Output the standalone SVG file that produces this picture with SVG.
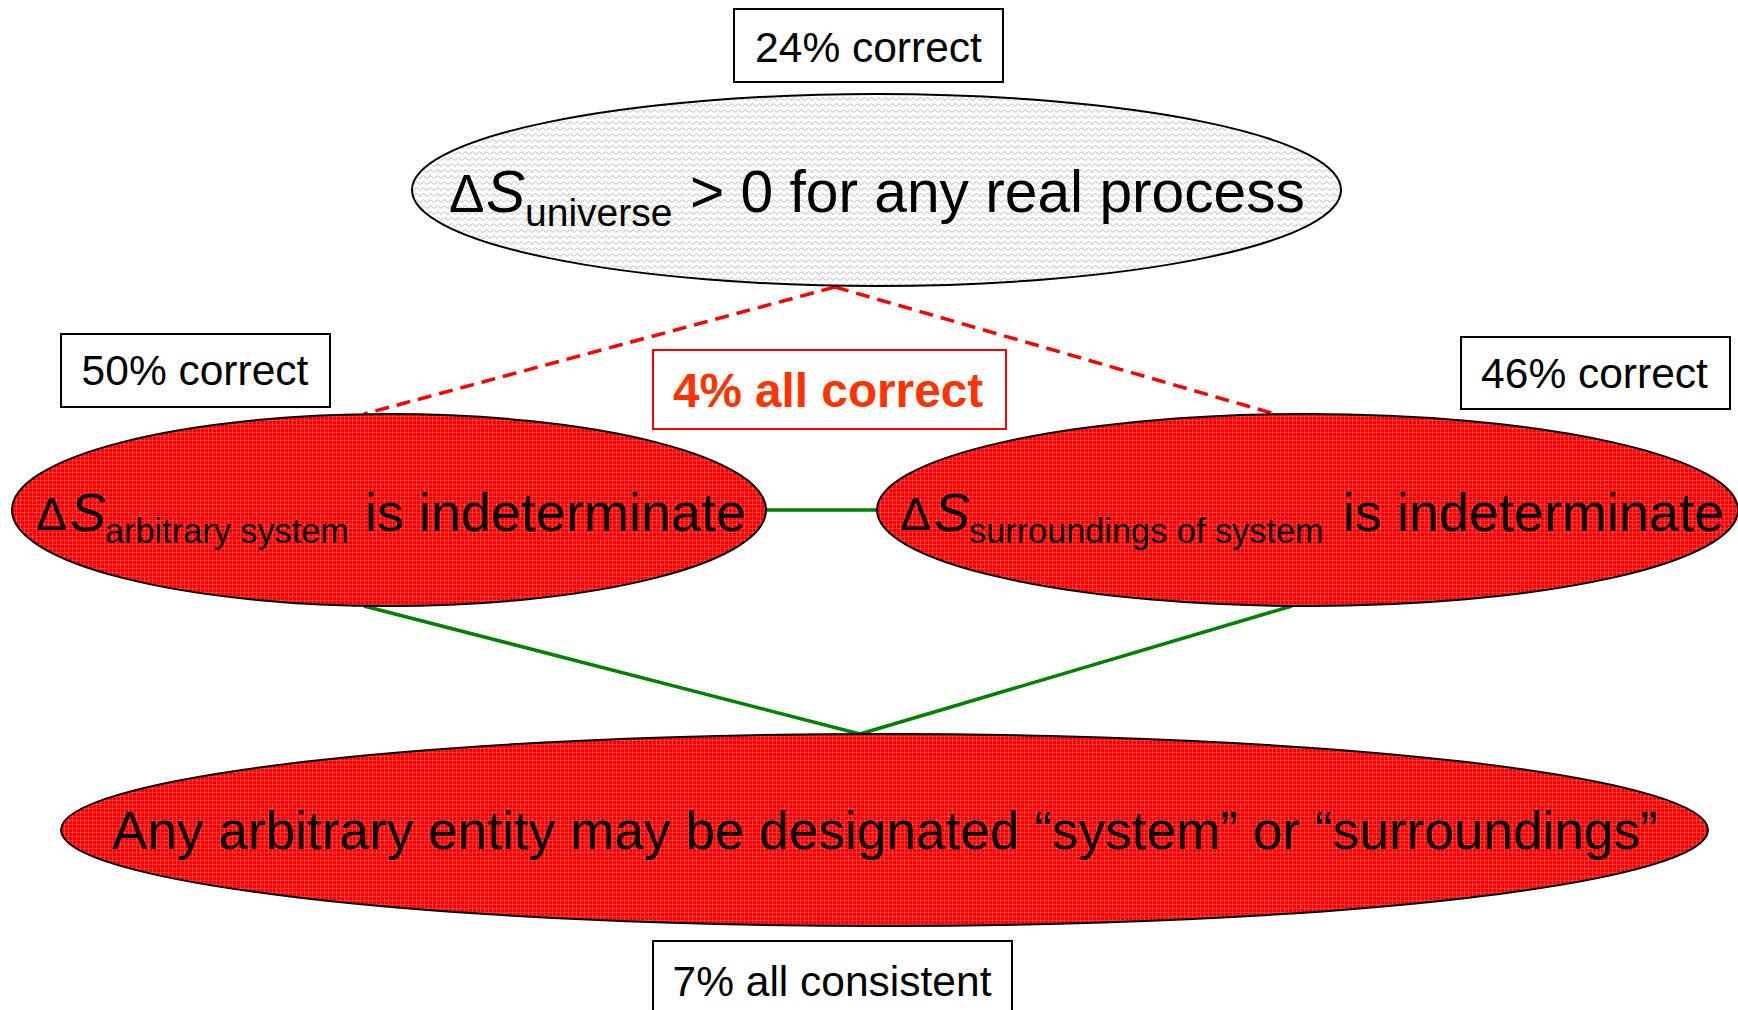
<svg xmlns="http://www.w3.org/2000/svg" width="1738" height="1010" viewBox="0 0 1738 1010">
  <defs>
    <pattern id="zigzag" width="7" height="6" patternUnits="userSpaceOnUse">
      <rect width="7" height="6" fill="#ffffff"/>
      <path d="M0,4.5 L3.5,1.5 L7,4.5" fill="none" stroke="#b5b5b5" stroke-width="0.9"/>
    </pattern>
    <pattern id="redgrid" width="4" height="4" patternUnits="userSpaceOnUse">
      <rect width="4" height="4" fill="#ff0000"/>
      <path d="M0,0.5 H4 M0.5,0 V4" stroke="#ff9a9a" stroke-width="0.6" opacity="0.6"/>
      <path d="M2.5,0 V4" stroke="#d00000" stroke-width="0.5" opacity="0.4"/>
    </pattern>
    <style>
      .ell { stroke: #000; stroke-width: 2; }
      .box { fill: #fff; stroke: #000; stroke-width: 2; }
      .lbl { font-family: "Liberation Sans", Arial, sans-serif; font-size: 42.5px; fill: #000; text-anchor: middle; }
      .big { font-family: "Liberation Sans", Arial, sans-serif; fill: #000; }
      .dash { stroke: #ff0000; stroke-width: 3.5; stroke-dasharray: 14 8; fill: none; }
      .solid { stroke: #008000; stroke-width: 3.5; fill: none; }
    </style>
  </defs>
  <rect width="1738" height="1010" fill="#ffffff"/>

  <g id="connectors">
    <line class="dash" x1="835" y1="287" x2="364" y2="414"/>
    <line class="dash" x1="835" y1="287" x2="1275" y2="414"/>
    <line class="solid" x1="765" y1="510" x2="877" y2="510"/>
    <line class="solid" x1="364" y1="606" x2="860" y2="734"/>
    <line class="solid" x1="1292" y1="606" x2="860" y2="734"/>
  </g>

  <g id="node-universe">
    <ellipse class="ell" cx="876.5" cy="190" rx="464.5" ry="96" fill="url(#zigzag)"/>
    <text class="big" font-size="58.7">
      <tspan x="449" y="212" font-size="53">Δ</tspan><tspan x="486" y="212" font-style="italic">S</tspan><tspan x="525" y="226" font-size="39">universe</tspan><tspan x="690" y="212">&gt; 0 for any real process</tspan>
    </text>
  </g>

  <g id="node-system">
    <ellipse class="ell" cx="389" cy="510" rx="377" ry="96" fill="url(#redgrid)"/>
    <text class="big" font-size="54">
      <tspan x="36" y="530" font-size="46">Δ</tspan><tspan x="70" y="531" font-style="italic">S</tspan><tspan x="105" y="543" font-size="34.3">arbitrary system</tspan><tspan x="365" y="531">is indeterminate</tspan>
    </text>
  </g>

  <g id="node-surroundings">
    <ellipse class="ell" cx="1307.5" cy="510" rx="430.5" ry="96" fill="url(#redgrid)"/>
    <text class="big" font-size="54">
      <tspan x="900" y="530" font-size="46">Δ</tspan><tspan x="934" y="531" font-style="italic">S</tspan><tspan x="969" y="543" font-size="34.3">surroundings of system</tspan><tspan x="1343" y="531">is indeterminate</tspan>
    </text>
  </g>

  <g id="node-arbitrary">
    <ellipse class="ell" cx="884.5" cy="830" rx="823.5" ry="96" fill="url(#redgrid)"/>
    <text class="big" font-size="53.2" x="885" y="849" text-anchor="middle">Any arbitrary entity may be designated “system” or “surroundings”</text>
  </g>

  <g id="label-24">
    <rect class="box" x="734" y="9" width="269" height="73"/>
    <text class="lbl" x="868.5" y="62">24% correct</text>
  </g>

  <g id="label-50">
    <rect class="box" x="61" y="334" width="269" height="73"/>
    <text class="lbl" x="195" y="385">50% correct</text>
  </g>

  <g id="label-46">
    <rect class="box" x="1461" y="337" width="269" height="72"/>
    <text class="lbl" x="1594.5" y="388">46% correct</text>
  </g>

  <g id="label-4">
    <rect x="653" y="350" width="353" height="79" fill="#ffffff" stroke="#ff0000" stroke-width="2"/>
    <text x="828" y="407" font-family="Liberation Sans, Arial, sans-serif" font-size="47.7" font-weight="bold" fill="#ff3300" text-anchor="middle">4% all correct</text>
  </g>

  <g id="label-7">
    <rect class="box" x="653" y="941" width="359" height="76"/>
    <text class="lbl" x="832" y="996">7% all consistent</text>
  </g>
</svg>
